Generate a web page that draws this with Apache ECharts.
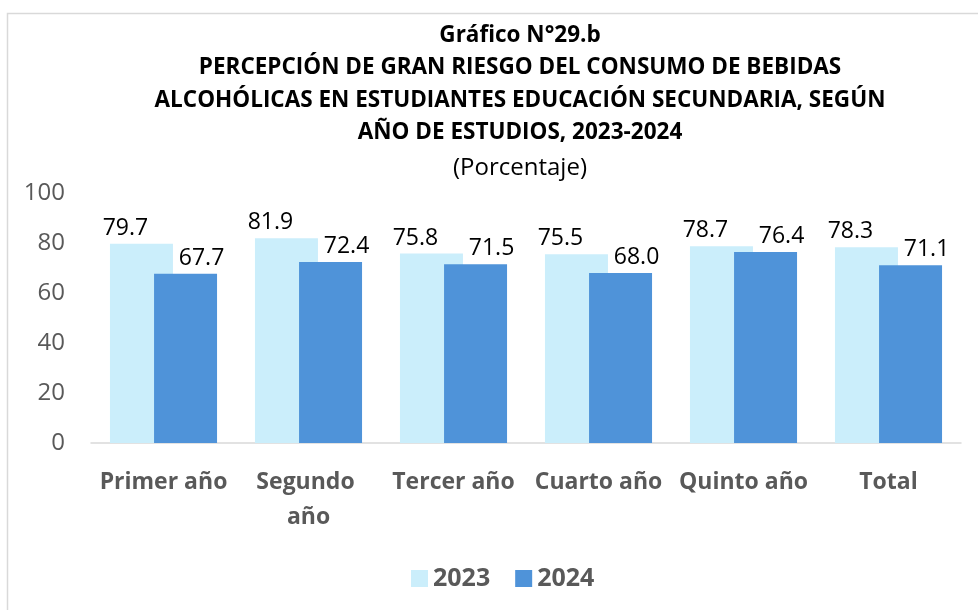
<!DOCTYPE html>
<html>
<head>
<meta charset="utf-8">
<script src="https://cdn.jsdelivr.net/npm/echarts@6/dist/echarts.min.js"></script>
<style>
  html, body { margin: 0; padding: 0; background: #fff; }
  #chart { width: 978px; height: 610px; }
</style>
</head>
<body>
<div id="chart"></div>
<script>
  var categories = ['Primer año', 'Segundo año', 'Tercer año', 'Cuarto año', 'Quinto año', 'Total'];
  var serie2023 = [79.7, 81.9, 75.8, 75.5, 78.7, 78.3];
  var serie2024 = [67.7, 72.4, 71.5, 68.0, 76.4, 71.1];
  var yTicks = [0, 20, 40, 60, 80, 100];

  var font = '"Open Sans", "Noto Sans", sans-serif';
  var myChart = echarts.init(document.getElementById('chart'));

  var option = {
    animation: false,
    textStyle: { fontFamily: font },
    graphic: [{
      type: 'rect',
      shape: { x: 7.5, y: 13.5, width: 990, height: 620 },
      style: { fill: 'none', stroke: '#d9d9d9', lineWidth: 1.5 },
      silent: true
    }],
    title: [
      {
        text: 'Gráfico N°29.b\nPERCEPCIÓN DE GRAN RIESGO DEL CONSUMO DE BEBIDAS\nALCOHÓLICAS EN ESTUDIANTES EDUCACIÓN SECUNDARIA, SEGÚN\nAÑO DE ESTUDIOS, 2023-2024',
        left: 515,
        top: 14,
        textAlign: 'center',
        textStyle: { fontFamily: font, fontSize: 22.5, fontWeight: 'bold', color: '#000', lineHeight: 32.5 }
      },
      {
        text: '(Porcentaje)',
        left: 515,
        top: 147,
        textAlign: 'center',
        textStyle: { fontFamily: font, fontSize: 24, fontWeight: 'normal', color: '#000', lineHeight: 33 }
      }
    ],
    grid: { left: 91, right: 17, top: 193, bottom: 167, containLabel: false },
    legend: {
      bottom: 14,
      left: 406,
      itemWidth: 17,
      itemHeight: 17,
      itemGap: 25,
      icon: 'rect',
      textStyle: { fontFamily: font, fontSize: 25, fontWeight: 'bold', color: '#595959' },
      data: ['2023', '2024']
    },
    xAxis: {
      type: 'category',
      data: categories,
      axisLine: { lineStyle: { color: '#d9d9d9', width: 1.5 } },
      axisTick: { show: false },
      axisLabel: {
        interval: 0,
        margin: 22,
        fontFamily: font,
        fontSize: 23,
        fontWeight: 'bold',
        color: '#595959',
        lineHeight: 35,
        width: 142,
        overflow: 'break'
      }
    },
    yAxis: {
      type: 'value',
      min: yTicks[0],
      max: yTicks[yTicks.length - 1],
      interval: 20,
      axisLine: { show: false },
      axisTick: { show: false },
      splitLine: { show: false },
      axisLabel: { fontFamily: font, fontSize: 24, color: '#595959', margin: 26 }
    },
    series: [
      {
        name: '2023',
        type: 'bar',
        data: serie2023,
        barWidth: 63,
        barGap: '-30%',
        itemStyle: { color: '#cbeefb' },
        label: {
          show: true,
          position: 'top',
          distance: 4,
          offset: [-16, 0],
          fontFamily: font,
          fontSize: 23,
          color: '#000',
          formatter: function (p) { return p.value.toFixed(1); }
        }
      },
      {
        name: '2024',
        type: 'bar',
        data: serie2024,
        barWidth: 63,
        itemStyle: { color: '#4f93d9' },
        label: {
          show: true,
          position: 'top',
          distance: 4,
          offset: [16, 0],
          fontFamily: font,
          fontSize: 23,
          color: '#000',
          formatter: function (p) { return p.value.toFixed(1); }
        }
      }
    ]
  };

  option && myChart.setOption(option);
</script>
</body>
</html>
